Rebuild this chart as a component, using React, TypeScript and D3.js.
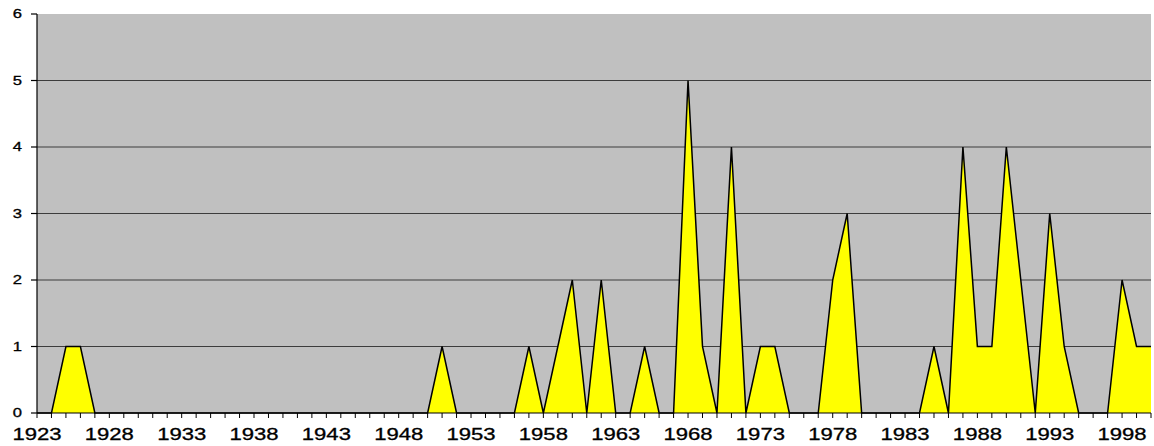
import React from 'react';
import * as d3 from 'd3';

const WIDTH = 1154;
const HEIGHT = 446;
const PLOT = { left: 37, right: 1151, top: 14, bottom: 413 };

const firstYear = 1923;
const lastYear = 2000;
const counts = [
  0, 0, 1, 1, 0, 0, 0, 0, 0, 0, // 1923-1932
  0, 0, 0, 0, 0, 0, 0, 0, 0, 0, // 1933-1942
  0, 0, 0, 0, 0, 0, 0, 0, 1, 0, // 1943-1952
  0, 0, 0, 0, 1, 0, 1, 2, 0, 2, // 1953-1962
  0, 0, 1, 0, 0, 5, 1, 0, 4, 0, // 1963-1972
  1, 1, 0, 0, 0, 2, 3, 0, 0, 0, // 1973-1982
  0, 0, 1, 0, 4, 1, 1, 4, 2, 0, // 1983-1992
  3, 1, 0, 0, 0, 2, 1, 1,       // 1993-2000
];
const yTicks = [0, 1, 2, 3, 4, 5, 6];
const xLabelYears = d3.range(firstYear, lastYear, 5);

const years = d3.range(firstYear, lastYear + 1);
const data = years.map((y, i) => ({ year: y, value: counts[i] }));

const FONT = 'Arial, "Liberation Sans", sans-serif';

const App: React.FC = () => {
  const x = d3.scaleLinear().domain([firstYear, lastYear]).range([PLOT.left, PLOT.right]);
  const y = d3.scaleLinear().domain([0, 6]).range([PLOT.bottom, PLOT.top]);

  const area = d3
    .area<{ year: number; value: number }>()
    .x(d => x(d.year))
    .y0(y(0))
    .y1(d => y(d.value));

  const line = d3
    .line<{ year: number; value: number }>()
    .x(d => x(d.year))
    .y(d => y(d.value));

  return (
    <svg
      width={WIDTH}
      height={HEIGHT}
      style={{ position: 'absolute', left: 0, top: 0, background: '#fff' }}
    >
      <rect
        x={PLOT.left}
        y={PLOT.top}
        width={PLOT.right - PLOT.left}
        height={PLOT.bottom - PLOT.top}
        fill="#c0c0c0"
      />
      {yTicks.slice(1, -1).map(t => (
        <line
          key={t}
          x1={PLOT.left}
          x2={PLOT.right}
          y1={y(t)}
          y2={y(t)}
          stroke="#3c3c3c"
          strokeWidth={1}
        />
      ))}
      <path d={area(data) || ''} fill="#ffff00" />
      <path d={line(data) || ''} fill="none" stroke="#000" strokeWidth={1.5} strokeLinejoin="miter" />

      {/* axes */}
      <line x1={PLOT.left} x2={PLOT.left} y1={PLOT.top} y2={PLOT.bottom} stroke="#000" strokeWidth={1.2} />
      <line x1={PLOT.left} x2={PLOT.right} y1={PLOT.bottom} y2={PLOT.bottom} stroke="#000" strokeWidth={1.2} />
      {yTicks.map(t => (
        <g key={t}>
          <line x1={PLOT.left - 6} x2={PLOT.left} y1={y(t)} y2={y(t)} stroke="#000" strokeWidth={1.2} />
          <text
            transform={`translate(${PLOT.left - 15},${y(t)}) scale(1.38,1)`}
            textAnchor="end"
            dominantBaseline="central"
            fontFamily={FONT}
            fontSize={12}
            fill="#000"
            stroke="#000"
            strokeWidth={0.3}
          >
            {t}
          </text>
        </g>
      ))}
      {years.map(yr => (
        <line
          key={yr}
          x1={x(yr)}
          x2={x(yr)}
          y1={PLOT.bottom}
          y2={PLOT.bottom + 5}
          stroke="#000"
          strokeWidth={1}
        />
      ))}
      {xLabelYears.map(yr => (
        <text
          key={yr}
          transform={`translate(${x(yr)},${440}) scale(1.38,1)`}
          textAnchor="middle"
          fontFamily={FONT}
          fontSize={16}
          fill="#000"
          stroke="#000"
          strokeWidth={0.3}
        >
          {yr}
        </text>
      ))}
    </svg>
  );
};

export default App;
